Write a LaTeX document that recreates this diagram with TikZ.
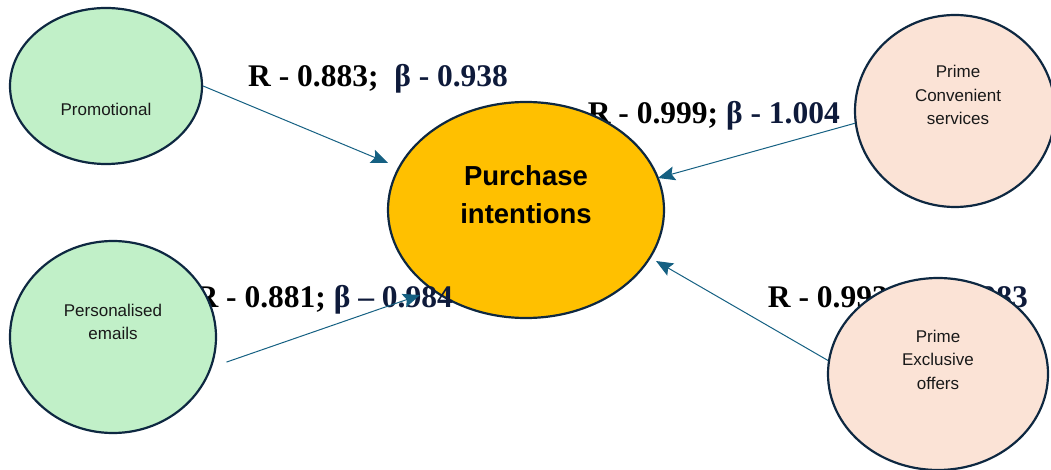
\documentclass[tikz,border=0pt]{standalone}
\usepackage{fontspec}
\setmainfont{Liberation Serif}
\newfontfamily\arialf{Liberation Sans}
\usetikzlibrary{shapes.geometric,arrows.meta,calc}
\definecolor{grn}{HTML}{C1F0C8}
\definecolor{pch}{HTML}{FBE3D6}
\definecolor{ylw}{HTML}{FFC000}
\definecolor{edgec}{HTML}{0E2841}
\definecolor{arrc}{HTML}{156082}
\definecolor{navy}{HTML}{0E1A3A}
\begin{document}
\begin{tikzpicture}[x=1pt,y=-1pt,
  bubble/.style={ellipse, draw=edgec, line width=2.2pt, inner sep=0pt},
  small/.style={font=\arialf\fontsize{17}{23.5}\selectfont, align=center, text=black!90, inner sep=0pt},
  coef/.style={font=\bfseries\fontsize{31.5}{36}\selectfont, inner sep=0pt},
  link/.style={draw=arrc, line width=1pt, -{Stealth[length=17pt,width=14pt,inset=3pt]}}]
\useasboundingbox (0,0) rectangle (1051,470);

% labels hidden behind shapes
\node[coef, anchor=base east] (c2) at (840,124) {R - 0.999; \textcolor{navy}{β - 1.004}};
\node[coef, anchor=base east] (c4) at (1028,307) {R - 0.993;\ \ \textcolor{navy}{β - 0.983}};

% central node
\node[bubble, fill=ylw, minimum width=276pt, minimum height=216pt] (pi) at (526,210) {};
\node[font=\arialf\bfseries\fontsize{27.5}{38}\selectfont, align=center, inner sep=0pt] (pit) at (526,195) {Purchase\\intentions};

\node[coef, anchor=base east] (c3) at (453,307) {R - 0.881; \textcolor{navy}{β – 0.984}};
\node[coef, anchor=base west] (c1) at (248,87) {R - 0.883;\ \ \textcolor{navy}{β - 0.938}};

% outer nodes
\node[bubble, fill=grn, minimum width=192pt, minimum height=156pt] (prom) at (106,86) {};
\node[small, anchor=base] (promt) at (106,116) {Promotional};
\node[bubble, fill=grn, minimum width=206pt, minimum height=192pt] (pe) at (113,337) {};
\node[small] (pet) at (113,322) {Personalised\\emails};
\node[bubble, fill=pch, minimum width=200pt, minimum height=192pt] (pcs) at (955,111) {};
\node[small] (pcst) at (958,95) {Prime\\Convenient\\services};
\node[bubble, fill=pch, minimum width=220pt, minimum height=192pt] (peo) at (938,374) {};
\node[small] (peot) at (938,359.5) {Prime\\Exclusive\\offers};

% arrow ends
\coordinate (t1) at (388,163);
\coordinate (t2) at (658,178);
\coordinate (t3) at (420,295);
\coordinate (t4) at (656,261);

\draw[link] (prom.east) -- (t1);
\draw[link] (pcs.187) -- (t2);
\draw[link] ($(pe.-14)+(13,0)$) -- (t3);
\draw[link] (peo.173) -- (t4);
\end{tikzpicture}
\end{document}
